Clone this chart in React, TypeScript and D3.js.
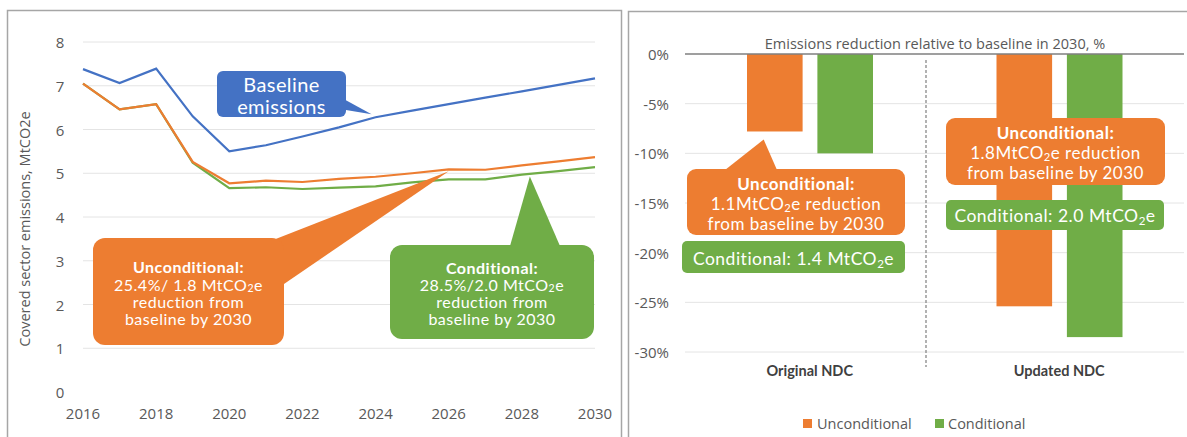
import React from "react";
import * as d3 from "d3";

// ---- Emissions trajectories (MtCO2e) ----
const years = [2016, 2017, 2018, 2019, 2020, 2021, 2022, 2023, 2024, 2025, 2026, 2027, 2028, 2029, 2030];
const baseline = [7.38, 7.06, 7.39, 6.3, 5.5, 5.64, 5.84, 6.05, 6.28, 6.43, 6.58, 6.73, 6.87, 7.02, 7.17];
const unconditional = [7.05, 6.46, 6.58, 5.26, 4.77, 4.83, 4.8, 4.87, 4.92, 5.0, 5.09, 5.08, 5.18, 5.27, 5.37];
const conditional = [7.05, 6.46, 6.58, 5.24, 4.66, 4.68, 4.64, 4.67, 4.7, 4.79, 4.86, 4.86, 4.97, 5.05, 5.14];
const yearTicks = [2016, 2018, 2020, 2022, 2024, 2026, 2028, 2030];
const emissionTicks = [0, 1, 2, 3, 4, 5, 6, 7, 8];

// ---- Reduction relative to baseline in 2030 (%) ----
const ndcCategories = ["Original NDC", "Updated NDC"];
const seriesNames = ["Unconditional", "Conditional"];
const unconditionalPct = [-7.8, -25.4];
const conditionalPct = [-10.0, -28.5];
const pctTicks = [0, -5, -10, -15, -20, -25, -30];

const ORANGE = "#ED7D31";
const GREEN = "#70AD47";
const BLUE = "#4472C4";
const TEXT = "#595959";
const GRID = "#E4E4E4";
const FONT = "Lato, 'Open Sans', sans-serif";
const AXIS_FONT = "'Open Sans', Lato, sans-serif";

// Renders a line of text where "CO2" gets a subscript 2.
function RichLine({ x, y, text, size, weight = "normal", spacing = 0 }: any) {
  const parts = text.split("CO2");
  const children: any[] = [];
  parts.forEach((p: string, i: number) => {
    if (i > 0) {
      children.push(<tspan key={"c" + i}>CO</tspan>);
      children.push(
        <tspan key={"s" + i} dy={size * 0.26} fontSize={size * 0.66}>2</tspan>
      );
      children.push(<tspan key={"r" + i} dy={-size * 0.26}>{p}</tspan>);
    } else {
      children.push(<tspan key={"p" + i}>{p}</tspan>);
    }
  });
  return (
    <text x={x} y={y} textAnchor="middle" dominantBaseline="central" fontSize={size}
      fontWeight={weight} fill="#fff" fontFamily={FONT} letterSpacing={spacing}>
      {children}
    </text>
  );
}

function Callout({ box, tail, color, lines, size, cx, rx = 10, spacing = 0 }: any) {
  return (
    <g>
      {tail && <polygon points={tail.map((p: number[]) => p.join(",")).join(" ")} fill={color} />}
      <rect x={box[0]} y={box[1]} width={box[2] - box[0]} height={box[3] - box[1]} rx={rx} fill={color} />
      {lines.map((l: any, i: number) => (
        <RichLine key={i} x={cx ?? (box[0] + box[2]) / 2} y={l.y} text={l.t} size={size}
          weight={l.b ? "bold" : "normal"} spacing={spacing} />
      ))}
    </g>
  );
}

function LinePanel() {
  const x = d3.scaleLinear().domain([2016, 2030]).range([83, 595]);
  const y = d3.scaleLinear().domain([0, 8]).range([392, 42]);
  const line = d3
    .line<number>()
    .x((_, i) => x(years[i]))
    .y((d) => y(d));

  const baseTip = [x(2024) - 4, y(baseline[8]) - 3];
  const uncTip = [x(2026), y(unconditional[10]) + 2];
  const conTip = [x(2028) + 8, y(conditional[12]) + 2];

  return (
    <g>
      <rect x={7.5} y={10.5} width={614} height={440} fill="#fff" stroke="#A6A6A6" strokeWidth={1.5} />
      {emissionTicks.filter((t) => t > 0).map((t) => (
        <line key={t} x1={x(2016)} x2={x(2030)} y1={y(t)} y2={y(t)} stroke={GRID} strokeWidth={1} />
      ))}
      {emissionTicks.map((t) => (
        <text key={t} x={60} y={y(t)} textAnchor="middle" dominantBaseline="central" fontSize={15} fill={TEXT} fontFamily={AXIS_FONT}>
          {t}
        </text>
      ))}
      {yearTicks.map((t) => (
        <text key={t} x={x(t)} y={413} textAnchor="middle" dominantBaseline="central" fontSize={15} fill={TEXT} fontFamily={AXIS_FONT}>
          {t}
        </text>
      ))}
      <text transform="translate(24,229) rotate(-90)" textAnchor="middle" dominantBaseline="central" fontSize={14.5} fill={TEXT} fontFamily={AXIS_FONT}>
        Covered sector emissions, MtCO2e
      </text>
      <path d={line(conditional) ?? ""} fill="none" stroke={GREEN} strokeWidth={2.2} />
      <path d={line(unconditional) ?? ""} fill="none" stroke={ORANGE} strokeWidth={2.2} />
      <path d={line(baseline) ?? ""} fill="none" stroke={BLUE} strokeWidth={2.2} />

      <Callout
        box={[217, 71, 346, 117]}
        tail={[[340, 97], [346, 110], baseTip]}
        color={BLUE}
        rx={6}
        size={20}
        spacing={0.4}
        lines={[{ t: "Baseline", y: 84 }, { t: "emissions", y: 106 }]}
      />
      <Callout
        box={[93, 238, 284, 345]}
        tail={[[268, 242], [284, 284], uncTip]}
        color={ORANGE}
        rx={12}
        size={16}
        spacing={0.5}
        lines={[
          { t: "Unconditional:", y: 266, b: true },
          { t: "25.4%/ 1.8 MtCO2e", y: 284 },
          { t: "reduction from", y: 301 },
          { t: "baseline by 2030", y: 318 },
        ]}
      />
      <Callout
        box={[390, 245, 594, 339]}
        tail={[[510, 246], [560, 246], conTip]}
        color={GREEN}
        rx={12}
        size={16}
        spacing={0.5}
        lines={[
          { t: "Conditional:", y: 267, b: true },
          { t: "28.5%/2.0 MtCO2e", y: 284 },
          { t: "reduction from", y: 301 },
          { t: "baseline by 2030", y: 318 },
        ]}
      />
    </g>
  );
}

function BarPanel() {
  const x0 = d3.scaleBand<string>().domain(ndcCategories).range([685, 1184]);
  const x1 = d3.scaleBand<string>().domain(seriesNames).range([62, 188]).paddingInner(0.21);
  const y = d3.scaleLinear().domain([-30, 0]).range([352, 54]);
  const values: Record<string, number[]> = { Unconditional: unconditionalPct, Conditional: conditionalPct };
  const colors: Record<string, string> = { Unconditional: ORANGE, Conditional: GREEN };

  const origOrange = (x0(ndcCategories[0]) ?? 0) + (x1("Unconditional") ?? 0);
  const origTip = [origOrange + x1.bandwidth() * 0.3, y(unconditionalPct[0]) + 8];

  return (
    <g>
      <rect x={628.5} y={11.5} width={570} height={440} fill="#fff" stroke="#A6A6A6" strokeWidth={1.5} />
      <text x={935} y={43} textAnchor="middle" dominantBaseline="central" fontSize={14.5} fill={TEXT} fontFamily={AXIS_FONT}>
        Emissions reduction relative to baseline in 2030, %
      </text>
      {pctTicks.filter((t) => t < 0).map((t) => (
        <line key={t} x1={685} x2={1184} y1={y(t)} y2={y(t)} stroke={GRID} strokeWidth={1} />
      ))}
      {pctTicks.map((t) => (
        <text key={t} x={669} y={y(t)} textAnchor="end" dominantBaseline="central" fontSize={15} fill={TEXT} fontFamily={AXIS_FONT}>
          {t}%
        </text>
      ))}
      {ndcCategories.map((c, ci) =>
        seriesNames.map((s) => {
          const v = values[s][ci];
          const bx = (x0(c) ?? 0) + (x1(s) ?? 0);
          return <rect key={c + s} x={bx} y={y(0)} width={x1.bandwidth()} height={y(v) - y(0)} fill={colors[s]} />;
        })
      )}
      <line x1={685} x2={1184} y1={y(0)} y2={y(0)} stroke="#7F7F7F" strokeWidth={1.3} />
      <line x1={926} x2={926} y1={60} y2={367} stroke="#7F7F7F" strokeWidth={1.2} strokeDasharray="3,2" />
      {ndcCategories.map((c) => (
        <text key={c} x={(x0(c) ?? 0) + x0.bandwidth() / 2} y={370} textAnchor="middle" dominantBaseline="central"
          fontSize={14.5} fontWeight="bold" fill="#404040" fontFamily={FONT}>
          {c}
        </text>
      ))}

      <Callout
        box={[687, 169, 905, 235]}
        tail={[[725, 170], [777, 170], origTip]}
        color={ORANGE}
        rx={9}
        size={17}
        spacing={0.5}
        lines={[
          { t: "Unconditional:", y: 183, b: true },
          { t: "1.1MtCO2e reduction", y: 203 },
          { t: "from baseline by 2030", y: 223 },
        ]}
      />
      <Callout
        box={[682, 241, 905, 273]}
        color={GREEN}
        rx={5}
        size={17.5}
        spacing={0.5}
        lines={[{ t: "Conditional: 1.4 MtCO2e", y: 258 }]}
      />
      <Callout
        box={[946, 118, 1165, 185]}
        color={ORANGE}
        rx={9}
        size={17}
        spacing={0.5}
        lines={[
          { t: "Unconditional:", y: 132, b: true },
          { t: "1.8MtCO2e reduction", y: 152 },
          { t: "from baseline by 2030", y: 172 },
        ]}
      />
      <Callout
        box={[946, 200, 1164, 230]}
        color={GREEN}
        rx={5}
        size={17.5}
        spacing={0.5}
        lines={[{ t: "Conditional: 2.0 MtCO2e", y: 215 }]}
      />

      {/* legend */}
      <rect x={803} y={419} width={9} height={9} fill={ORANGE} />
      <text x={817} y={423.5} dominantBaseline="central" fontSize={14.5} fill={TEXT} fontFamily={AXIS_FONT}>Unconditional</text>
      <rect x={935} y={419} width={9} height={9} fill={GREEN} />
      <text x={948} y={423.5} dominantBaseline="central" fontSize={14.5} fill={TEXT} fontFamily={AXIS_FONT}>Conditional</text>
    </g>
  );
}

export default function App() {
  return (
    <svg width={1187} height={437} style={{ position: "absolute", left: 0, top: 0 }}>
      <rect width={1187} height={437} fill="#fff" />
      <LinePanel />
      <BarPanel />
    </svg>
  );
}
